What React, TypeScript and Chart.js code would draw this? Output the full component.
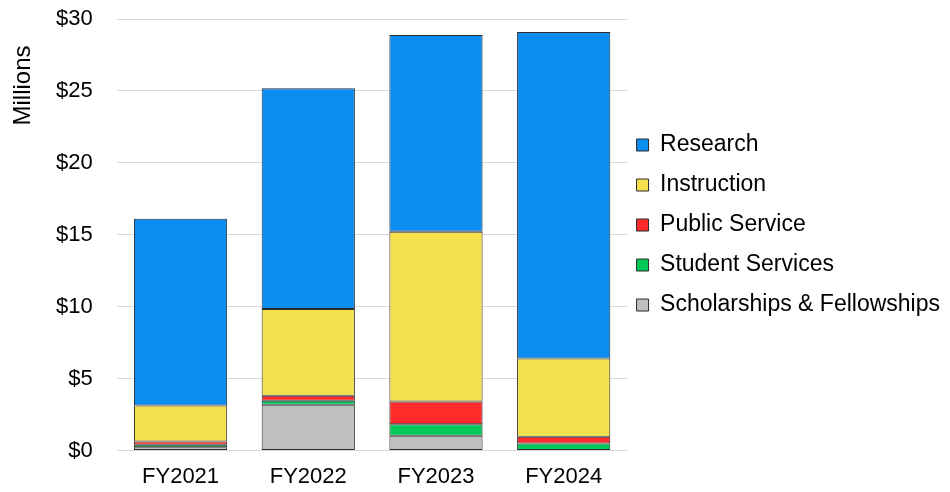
import React, { useEffect, useRef } from 'react';
import { Chart, registerables } from 'chart.js';

Chart.register(...registerables);

const categories = ['FY2021', 'FY2022', 'FY2023', 'FY2024'];
const scholarships = [0.23, 3.19, 1.03, 0.04];
const studentServices = [0.17, 0.28, 0.81, 0.46];
const publicService = [0.24, 0.35, 1.58, 0.47];
const instruction = [2.5, 6.02, 11.79, 5.44];
const research = [12.98, 15.35, 13.68, 22.68];
const yTickValues = [0, 5, 10, 15, 20, 25, 30];
const yAxisTitle = 'Millions';

const FONT = '"Liberation Sans", Arial, Helvetica, sans-serif';
const BORDER = '#2b2b2b';

export default function App() {
  const ref = useRef<HTMLCanvasElement>(null);

  useEffect(() => {
    if (!ref.current) return;

    const yTitlePlugin = {
      id: 'yTitlePlugin',
      afterDraw(chart: any) {
        const { ctx, chartArea } = chart;
        ctx.save();
        ctx.font = `24px ${FONT}`;
        ctx.fillStyle = '#000000';
        ctx.translate(chartArea.left - 93, chartArea.top + 66.5);
        ctx.rotate(-Math.PI / 2);
        ctx.textAlign = 'center';
        ctx.textBaseline = 'middle';
        ctx.fillText(yAxisTitle, 0, 0);
        ctx.restore();
      },
    };

    const mk = (label: string, data: number[], color: string) => ({
      label,
      data,
      backgroundColor: color,
      borderColor: BORDER,
      borderWidth: 1,
      borderSkipped: false as const,
      categoryPercentage: 1,
      barPercentage: 0.73,
    });

    const chart = new Chart(ref.current, {
      type: 'bar',
      data: {
        labels: categories,
        datasets: [
          mk('Scholarships & Fellowships', scholarships, '#C0BFBF'),
          mk('Student Services', studentServices, '#00C957'),
          mk('Public Service', publicService, '#FF2A2A'),
          mk('Instruction', instruction, '#F5E14E'),
          mk('Research', research, '#0A8CF0'),
        ],
      },
      options: {
        animation: false,
        responsive: true,
        maintainAspectRatio: false,
        layout: { padding: { left: 56, top: 19, bottom: 2, right: 0 } },
        scales: {
          x: {
            stacked: true,
            grid: {
              display: false,
              drawTicks: true,
              tickLength: 13,
              tickColor: 'rgba(0,0,0,0)',
            },
            border: { display: false },
            ticks: {
              color: '#000000',
              padding: 0,
              font: { family: FONT, size: 22 },
            },
          },
          y: {
            stacked: true,
            min: 0,
            max: 30,
            afterBuildTicks: (axis: any) => {
              axis.ticks = yTickValues.map((v) => ({ value: v }));
            },
            grid: {
              color: '#D9D9D9',
              lineWidth: 1,
              drawTicks: true,
              tickLength: 24,
              tickColor: 'rgba(0,0,0,0)',
            },
            border: { display: false },
            ticks: {
              color: '#000000',
              padding: 0,
              font: { family: FONT, size: 22 },
              callback: (v: any) => `$${v}`,
            },
          },
        },
        plugins: {
          tooltip: { enabled: false },
          legend: {
            position: 'right',
            align: 'start',
            reverse: true,
            maxWidth: 400,
            title: {
              display: true,
              text: '',
              font: { size: 10, lineHeight: 1 },
              padding: { top: 95.5, bottom: 0 },
            },
            labels: {
              color: '#000000',
              boxWidth: 12,
              boxHeight: 12,
              padding: 9,
              font: { family: FONT, size: 23, lineHeight: 31 / 23 },
              generateLabels: (c: any) =>
                Chart.defaults.plugins.legend.labels
                  .generateLabels(c)
                  .map((l: any) => ({ ...l, text: [l.text], lineWidth: 1, strokeStyle: BORDER })),
            },
          },
        },
      },
      plugins: [yTitlePlugin],
    });

    return () => chart.destroy();
  }, []);

  return (
    <div style={{ position: 'absolute', left: 0, top: 0, width: 950, height: 492, background: '#ffffff' }}>
      <canvas ref={ref} />
    </div>
  );
}
